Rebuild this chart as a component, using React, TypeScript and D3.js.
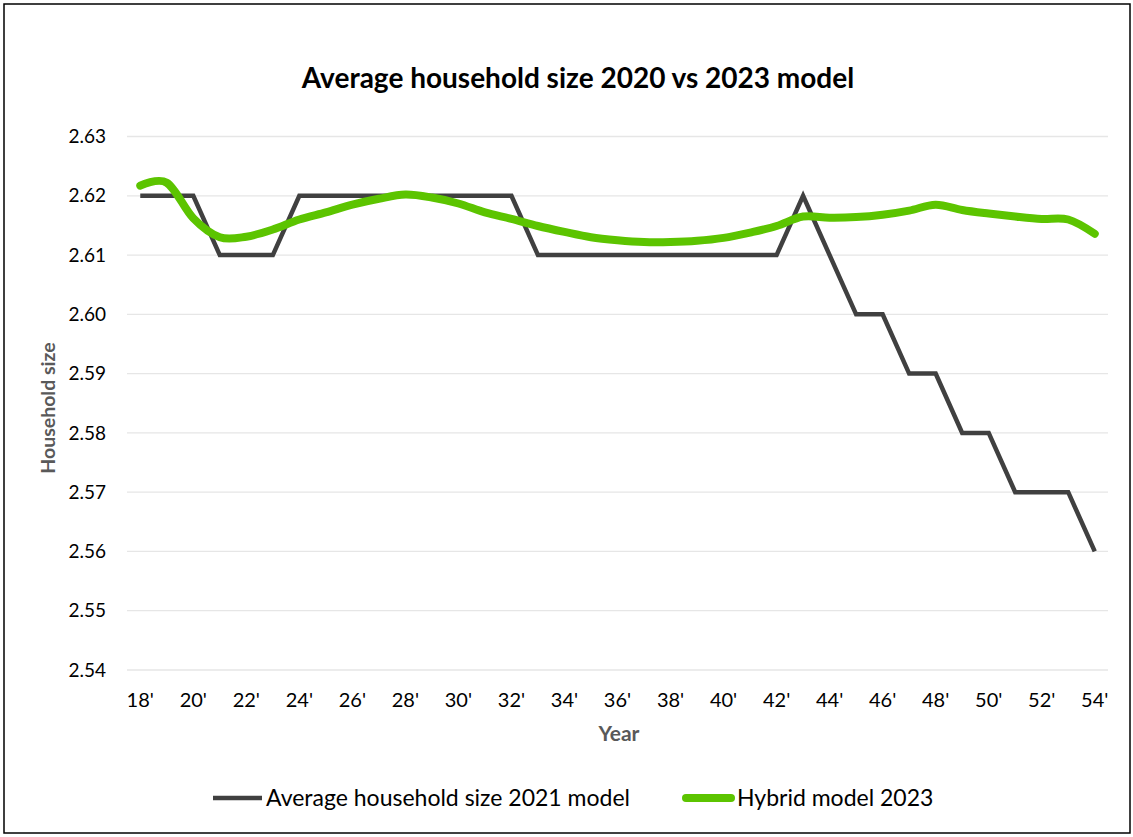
import * as d3 from "d3";

const years = d3.range(2018, 2055);
const tickYears = years.filter((y) => (y - 2018) % 2 === 0);
const yTicks = [2.54, 2.55, 2.56, 2.57, 2.58, 2.59, 2.6, 2.61, 2.62, 2.63];

// Average household size 2021 model
const model2021 = [
  2.62, 2.62, 2.62, 2.61, 2.61, 2.61, 2.62, 2.62, 2.62, 2.62, 2.62, 2.62, 2.62,
  2.62, 2.62, 2.61, 2.61, 2.61, 2.61, 2.61, 2.61, 2.61, 2.61, 2.61, 2.61, 2.62,
  2.61, 2.6, 2.6, 2.59, 2.59, 2.58, 2.58, 2.57, 2.57, 2.57, 2.56,
];

// Hybrid model 2023
const hybrid2023 = [
  2.6217, 2.6222, 2.6162, 2.613, 2.6131, 2.6143, 2.616, 2.6172, 2.6185, 2.6195,
  2.6202, 2.6197, 2.6187, 2.6172, 2.6161, 2.6149, 2.6139, 2.613, 2.6125, 2.6122,
  2.6122, 2.6124, 2.6129, 2.6138, 2.6149, 2.6165, 2.6163, 2.6164, 2.6168,
  2.6175, 2.6185, 2.6176, 2.617, 2.6165, 2.6161, 2.616, 2.6136,
];

const W = 1133;
const H = 837;
const FONT = "Lato, sans-serif";
const BLACK = "#404040";
const GREEN = "#5cc400";

export default function App() {
  const x = d3.scalePoint<number>().domain(years).range([127, 1108]).padding(0.5);
  const y = d3.scaleLinear().domain([2.54, 2.63]).range([670, 136.5]);

  const line = d3
    .line<number>()
    .x((_, i) => x(years[i])!)
    .y((d) => y(d));
  const smooth = d3
    .line<number>()
    .x((_, i) => x(years[i])!)
    .y((d) => y(d))
    .curve(d3.curveCardinal.tension(0));

  return (
    <svg
      width={W}
      height={H}
      style={{ position: "absolute", left: 0, top: 0, fontFamily: FONT }}
    >
      <rect x={0} y={0} width={W} height={H} fill="#fff" />
      <rect x={4} y={4} width={1126} height={829} fill="none" stroke="#000" strokeWidth={1.5} />

      <text x={578} y={88} textAnchor="middle" fontSize={28} fontWeight="bold" fill="#000">
        Average household size 2020 vs 2023 model
      </text>

      {yTicks.map((t) => (
        <g key={t}>
          <line x1={127} x2={1108} y1={y(t)} y2={y(t)} stroke="#e6e6e6" strokeWidth={1.3} />
          <text x={106} y={y(t)} dy="0.35em" textAnchor="end" fontSize={19} fill="#000">
            {t.toFixed(2)}
          </text>
        </g>
      ))}

      {tickYears.map((yr) => (
        <text key={yr} x={x(yr)} y={700} dy="0.35em" textAnchor="middle" fontSize={20} fill="#000">
          {`${String(yr).slice(2)}'`}
        </text>
      ))}

      <text x={619} y={734} dy="0.35em" textAnchor="middle" fontSize={21} fontWeight="bold" fill="#595959">
        Year
      </text>
      <text
        transform="translate(48,408) rotate(-90)"
        dy="0.35em"
        textAnchor="middle"
        fontSize={19.5}
        fontWeight="bold"
        fill="#595959"
      >
        Household size
      </text>

      <path d={line(model2021)!} fill="none" stroke={BLACK} strokeWidth={4.5} strokeLinejoin="miter" />
      <path d={smooth(hybrid2023)!} fill="none" stroke={GREEN} strokeWidth={8} strokeLinecap="round" />

      <line x1={213} x2={262} y1={798} y2={798} stroke={BLACK} strokeWidth={4.5} />
      <text x={266} y={798} dy="0.35em" fontSize={23} fill="#000">
        Average household size 2021 model
      </text>
      <line x1={686} x2={731} y1={798} y2={798} stroke={GREEN} strokeWidth={8} strokeLinecap="round" />
      <text x={737} y={798} dy="0.35em" fontSize={23} fill="#000">
        Hybrid model 2023
      </text>
    </svg>
  );
}
